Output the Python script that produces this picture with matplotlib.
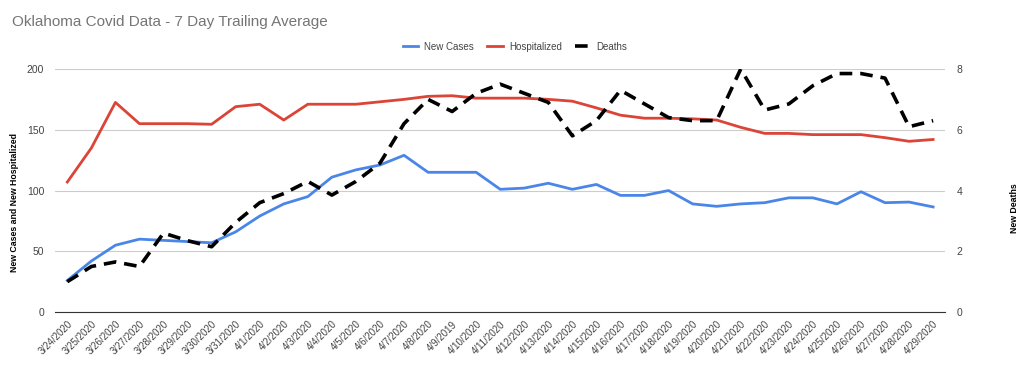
import matplotlib.pyplot as plt
import numpy as np

plt.rcParams['font.family'] = ['Liberation Sans', 'DejaVu Sans']

dates = ["3/24/2020", "3/25/2020", "3/26/2020", "3/27/2020", "3/28/2020", "3/29/2020",
         "3/30/2020", "3/31/2020", "4/1/2020", "4/2/2020", "4/3/2020", "4/4/2020",
         "4/5/2020", "4/6/2020", "4/7/2020", "4/8/2020", "4/9/2019", "4/10/2020",
         "4/11/2020", "4/12/2020", "4/13/2020", "4/14/2020", "4/15/2020", "4/16/2020",
         "4/17/2020", "4/18/2020", "4/19/2020", "4/20/2020", "4/21/2020", "4/22/2020",
         "4/23/2020", "4/24/2020", "4/25/2020", "4/26/2020", "4/27/2020", "4/28/2020",
         "4/29/2020"]

new_cases = [26, 42, 55, 60, 59, 58, 57, 66, 79, 89, 95, 111, 117, 121, 129, 115, 115, 115,
             101, 102, 106, 101, 105, 96, 96, 100, 89, 87, 89, 90, 94, 94, 89, 99, 90, 90.5, 86.5]

hospitalized = [107, 135, 172.5, 155, 155, 155, 154.5, 169, 171, 158, 171, 171, 171, 173, 175,
                177.5, 178, 176, 176, 176, 175, 173.5, 168, 162, 159.5, 159.5, 159, 158, 152,
                147, 147, 146, 146, 146, 143.5, 140.5, 142]

deaths = [1.0, 1.5, 1.65, 1.5, 2.6, 2.35, 2.15, 2.95, 3.6, 3.9, 4.3, 3.85, 4.3, 4.9, 6.2, 7.0,
          6.6, 7.2, 7.5, 7.2, 6.9, 5.8, 6.3, 7.3, 6.85, 6.4, 6.3, 6.3, 8.0, 6.65, 6.85, 7.45,
          7.85, 7.85, 7.7, 6.1, 6.3]

x = np.arange(len(dates))

fig = plt.figure(figsize=(10.24, 3.65), dpi=100)
ax = fig.add_axes([0.054, 0.145, 0.869, 0.666])
ax2 = ax.twinx()

l1, = ax.plot(x, new_cases, color="#4a86e8", lw=2, label="New Cases")
l2, = ax.plot(x, hospitalized, color="#db4437", lw=2, label="Hospitalized")
l3, = ax2.plot(x, deaths, color="black", lw=2.6, ls=(0, (3.5, 2.2)), label="Deaths")

ax.set_xlim(-0.5, 36.5)
ax.set_ylim(0, 200)
ax2.set_ylim(0, 8)
ax.set_yticks([0, 50, 100, 150, 200])
ax2.set_yticks([0, 2, 4, 6, 8])
ax.grid(axis="y", color="#cccccc", lw=0.8)
ax.set_axisbelow(True)

for a in (ax, ax2):
    for s in a.spines.values():
        s.set_visible(False)
    a.tick_params(length=0, labelsize=7.5, labelcolor="#444444")
ax.spines["bottom"].set_visible(True)
ax.spines["bottom"].set_color("#333333")
ax.tick_params(axis="y", pad=8)
ax2.tick_params(axis="y", pad=8)

ax.set_xticks(x)
ax.set_xticklabels(dates, rotation=45, ha="right", rotation_mode="anchor", fontsize=7)
ax.tick_params(axis="x", pad=5)

# axis titles placed in figure coords
fig.text(0.0146, 0.444, "New Cases and New Hospitalized", rotation=90, fontsize=6.3,
         fontweight="bold", ha="center", va="center")
fig.text(0.991, 0.43, "New Deaths", rotation=90, fontsize=6.3,
         fontweight="bold", ha="center", va="center")

fig.text(0.012, 0.94, "Oklahoma Covid Data - 7 Day Trailing Average", fontsize=11,
         color="#757575", va="center")

fig.legend(handles=[l1, l2, l3], loc="center", bbox_to_anchor=(0.503, 0.872), ncol=3,
           frameon=False, fontsize=7, handlelength=1.6, handletextpad=0.6,
           columnspacing=1.4, labelcolor="#444444")

fig.savefig("out.png", dpi=100)
